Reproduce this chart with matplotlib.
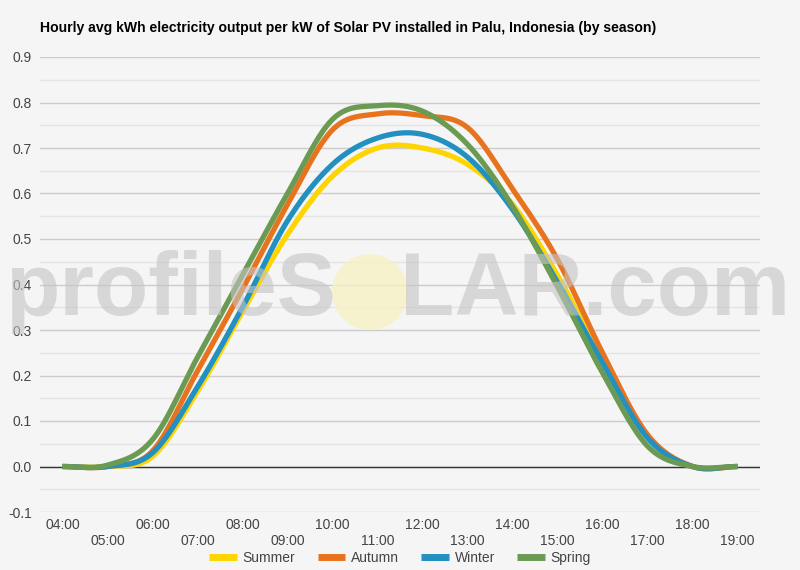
import numpy as np
import matplotlib
matplotlib.use("Agg")
import matplotlib.pyplot as plt
from matplotlib.patches import Ellipse

plt.rcParams['font.family'] = ['Liberation Sans', 'DejaVu Sans']

hours = ["04:00", "05:00", "06:00", "07:00", "08:00", "09:00", "10:00", "11:00",
         "12:00", "13:00", "14:00", "15:00", "16:00", "17:00", "18:00", "19:00"]
summer = [0, 0, 0.022, 0.165, 0.34, 0.51, 0.638, 0.70, 0.70, 0.664, 0.576, 0.42, 0.235, 0.067, 0, 0]
autumn = [0, 0, 0.034, 0.21, 0.39, 0.576, 0.74, 0.775, 0.771, 0.745, 0.61, 0.455, 0.25, 0.07, 0, 0]
winter = [0, 0, 0.03, 0.175, 0.35, 0.54, 0.664, 0.722, 0.73, 0.68, 0.565, 0.405, 0.228, 0.063, 0, 0]
spring = [0, 0.003, 0.059, 0.24, 0.42, 0.60, 0.763, 0.793, 0.781, 0.708, 0.572, 0.395, 0.206, 0.045, 0, 0]
series = [("Summer", summer, "#FFD500"), ("Autumn", autumn, "#E8731E"),
          ("Winter", winter, "#2290C0"), ("Spring", spring, "#6B9A52")]
yticks = [-0.1, 0.0, 0.1, 0.2, 0.3, 0.4, 0.5, 0.6, 0.7, 0.8, 0.9]


def catmull(y, n=30):
    y = np.asarray(y, float)
    x = np.arange(len(y), dtype=float)
    m = np.zeros_like(y)
    m[1:-1] = (y[2:] - y[:-2]) / 2.0
    xs, ys = [], []
    for i in range(len(y) - 1):
        t = np.linspace(0, 1, n, endpoint=(i == len(y) - 2))
        h00 = 2 * t**3 - 3 * t**2 + 1
        h10 = t**3 - 2 * t**2 + t
        h01 = -2 * t**3 + 3 * t**2
        h11 = t**3 - t**2
        xs.append(x[i] + t)
        ys.append(h00 * y[i] + h10 * m[i] + h01 * y[i + 1] + h11 * m[i + 1])
    return np.concatenate(xs), np.concatenate(ys)


bg = "#f5f5f5"
fig = plt.figure(figsize=(8, 5.7), dpi=100, facecolor=bg)
ax = fig.add_axes([0.05, 1 - 512 / 570, 0.90, (512 - 57) / 570])
ax.set_facecolor(bg)

# watermark
fig.text(5 / 800, 1 - 315 / 570, "profileS", fontsize=64, fontweight="bold", color="#c4c4c4",
         alpha=0.6, ha="left", va="baseline", zorder=0)
fig.text(790 / 800, 1 - 315 / 570, "LAR.com", fontsize=64, fontweight="bold", color="#c4c4c4",
         alpha=0.6, ha="right", va="baseline", zorder=0)
fig.patches.append(Ellipse((370 / 800, 1 - 292 / 570), 76 / 800, 76 / 570,
                           transform=fig.transFigure, facecolor="#f7f1c2", alpha=0.75,
                           edgecolor="none", zorder=0))
ax.patch.set_alpha(0)

ax.set_xlim(-0.5, len(hours) - 0.5)
ax.set_ylim(-0.1, 0.9)
for v in np.arange(-0.1, 0.91, 0.1):
    ax.axhline(v, color="#cccccc", lw=1, zorder=1)
for v in np.arange(-0.05, 0.9, 0.1):
    ax.axhline(v, color="#e4e4e4", lw=1, zorder=1)
ax.axhline(0, color="#333333", lw=1, zorder=2)

for name, vals, col in series:
    xs, ys = catmull(vals)
    ax.plot(xs, ys, color=col, lw=3.8, label=name, zorder=3, solid_capstyle="butt")

for s in ax.spines.values():
    s.set_visible(False)
ax.set_yticks(yticks)
ax.set_yticklabels([f"{v:.1f}" for v in yticks])
ax.set_xticks(range(len(hours)))
ax.set_xticklabels([h if i % 2 == 0 else "\n" + h for i, h in enumerate(hours)])
ax.tick_params(length=0, labelsize=10, labelcolor="#444444")
ax.tick_params(axis="y", pad=6)
ax.tick_params(axis="x", pad=4)

fig.text(40 / 800, 1 - 28 / 570, "Hourly avg kWh electricity output per kW of Solar PV installed in Palu, Indonesia (by season)",
         fontsize=10.1, fontweight="bold", color="#000000", ha="left", va="center")

leg = fig.legend(loc="center", bbox_to_anchor=(0.5, 1 - 558 / 570), ncol=4, frameon=False,
                 fontsize=10, handlelength=2.0, handletextpad=0.4, columnspacing=1.6)
for l in leg.get_lines():
    l.set_linewidth(5)
for t in leg.get_texts():
    t.set_color("#444444")

fig.savefig("out.png", dpi=100, facecolor=bg)
